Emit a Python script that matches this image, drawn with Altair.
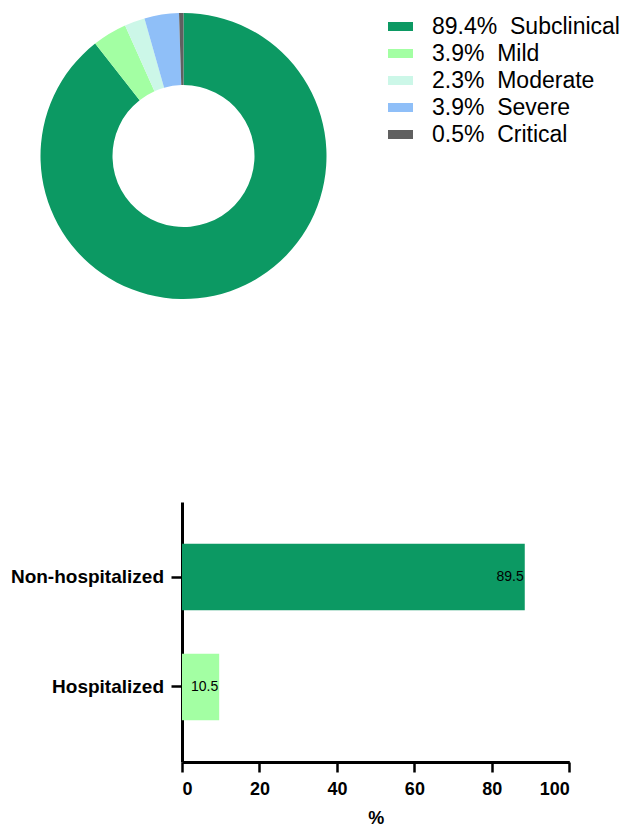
import altair as alt
import pandas as pd

# ---- data: donut ----
severity = ["Subclinical", "Mild", "Moderate", "Severe", "Critical"]
severity_pct = [89.4, 3.9, 2.3, 3.9, 0.5]
severity_colors = ["#0c9963", "#a3ffa3", "#ccf7e8", "#8fbff8", "#606060"]

# ---- data: bars ----
groups = ["Non-hospitalized", "Hospitalized"]
group_bar = [88.5, 9.6]
group_label = ["89.5", "10.5"]
group_colors = ["#0c9963", "#a3ffa3"]
x_ticks = [0, 20, 40, 60, 80, 100]

NB = "\u00a0"
legend_text = [f"{p}%{NB}{NB}{s}" for p, s in zip(severity_pct, severity)]

donut_df = pd.DataFrame({
    "severity": severity,
    "pct": severity_pct,
    "legend": legend_text,
    "order": list(range(len(severity))),
})

bar_df = pd.DataFrame({"group": groups, "value": group_bar, "label": group_label})

FONT = "Liberation Sans"

# The donut view is kept narrow so that its centre sits on the bar chart's y axis
donut = alt.Chart(donut_df).mark_arc(innerRadius=71, outerRadius=143).encode(
    theta=alt.Theta("pct:Q", stack=True),
    order=alt.Order("order:Q"),
    color=alt.Color(
        "legend:N",
        sort=legend_text,
        scale=alt.Scale(domain=legend_text, range=severity_colors),
        legend=alt.Legend(
            title=None,
            orient="none",
            legendX=206,
            legendY=6,
            symbolType="M-1,-0.36L1,-0.36L1,0.36L-1,0.36Z",
            symbolSize=625,
            symbolStrokeWidth=0,
            labelFont=FONT,
            labelFontSize=23,
            labelColor="black",
            labelOffset=19,
            labelLimit=0,
            rowPadding=2,
            padding=0,
        ),
    ),
).properties(width=3, height=296)

base = alt.Chart(bar_df).encode(
    y=alt.Y(
        "group:N",
        sort=groups,
        scale=alt.Scale(paddingInner=0.394, paddingOuter=0.38),
        axis=alt.Axis(
            title=None,
            labelFontSize=19,
            labelPadding=7.5,
            tickSize=11,
        ),
    )
)

bars = base.mark_bar().encode(
    x=alt.X(
        "value:Q",
        scale=alt.Scale(domain=[0, 100], nice=False),
        axis=alt.Axis(
            values=x_ticks,
            title="%",
            labelFontSize=18,
            labelPadding=8,
            tickSize=10,
            titleFontSize=18,
            titleFont=FONT,
            titleFontWeight="bold",
            titleColor="black",
            titlePadding=11,
        ),
    ),
    color=alt.Color(
        "group:N",
        scale=alt.Scale(domain=groups, range=group_colors),
        legend=None,
    ),
)

text = base.mark_text(
    align="right", baseline="middle", dx=-1, fontSize=14, font=FONT, color="black"
).encode(x="value:Q", text="label:N")

barchart = (bars + text).properties(width=387.3, height=260)

chart = (
    alt.vconcat(donut, barchart, spacing=198)
    .resolve_scale(color="independent")
    .properties(padding={"left": 2, "top": 0, "right": 0, "bottom": 0})
    .configure_view(stroke=None)
    .configure_axis(
        grid=False,
        domainColor="black",
        domainWidth=3,
        tickColor="black",
        tickWidth=2.5,
        labelFont=FONT,
        labelFontWeight="bold",
        labelColor="black",
    )
)

chart.save("out.html", embed_options={"renderer": "svg", "actions": False})
